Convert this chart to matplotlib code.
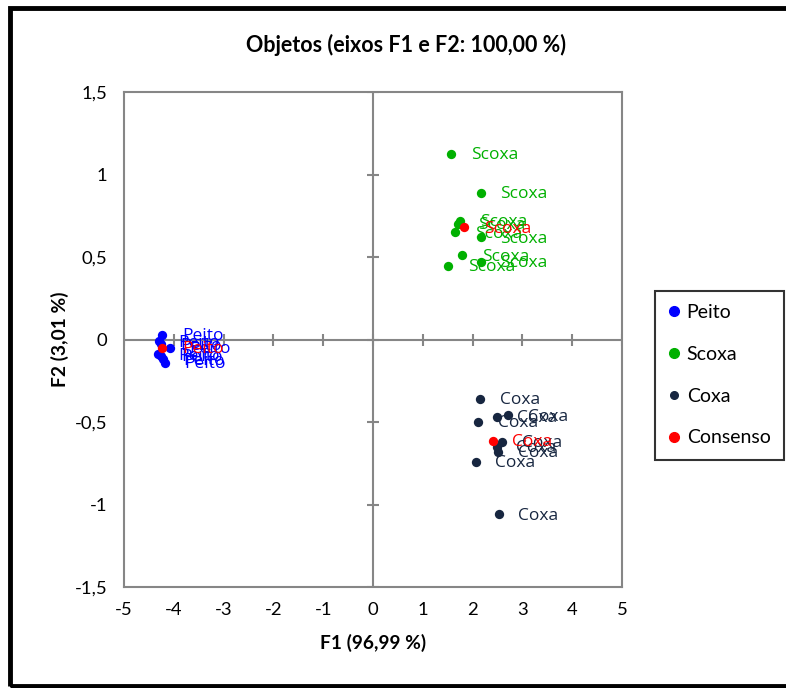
import matplotlib
matplotlib.use("Agg")
import matplotlib.pyplot as plt
from matplotlib.lines import Line2D
from matplotlib.patches import Rectangle

# Coordinates of the objects on the first two factors
peito_f1 = [-4.23, -4.30, -4.26, -4.08, -4.31, -4.25, -4.21, -4.18]
peito_f2 = [0.03, -0.01, -0.03, -0.05, -0.09, -0.10, -0.12, -0.14]

scoxa_f1 = [1.57, 2.17, 1.75, 1.71, 1.65, 2.17, 1.79, 2.17, 1.51]
scoxa_f2 = [1.124, 0.888, 0.72, 0.70, 0.65, 0.62, 0.51, 0.47, 0.445]

coxa_f1 = [2.15, 2.50, 2.72, 2.11, 2.60, 2.48, 2.52, 2.06, 2.53]
coxa_f2 = [-0.36, -0.47, -0.46, -0.50, -0.62, -0.65, -0.68, -0.74, -1.06]

consenso_f1 = [-4.23, 1.83, 2.40]
consenso_f2 = [-0.05, 0.68, -0.615]
consenso_lab = ["Peito", "Scoxa", "Coxa"]

x_ticks = [-5, -4, -3, -2, -1, 0, 1, 2, 3, 4, 5]
y_ticks = [-1.5, -1, -0.5, 0, 0.5, 1, 1.5]

c_peito = "#0000ff"
c_scoxa = "#00b000"
c_coxa = "#172640"
c_cons = "#ff0000"
grey = "#868686"


def fmt(v):
    s = ("%g" % v).replace(".", ",")
    return s


fig = plt.figure(figsize=(7.86, 6.88), dpi=100)
ax = fig.add_axes([124 / 786, 101 / 688, 498 / 786, 495 / 688])

ax.set_xlim(-5, 5)
ax.set_ylim(-1.5, 1.5)
for sp in ax.spines.values():
    sp.set_color(grey)
    sp.set_linewidth(1.5)
ax.tick_params(length=0, labelsize=13.3)
ax.tick_params(axis="x", pad=11)
ax.tick_params(axis="y", pad=12)
ax.set_xticks(x_ticks)
ax.set_yticks(y_ticks)
ax.set_xticklabels([fmt(v) for v in x_ticks], fontfamily="Lato")
ax.set_yticklabels([fmt(v) for v in y_ticks], fontfamily="Lato")

# axes through the origin with crossing tick marks
ax.axhline(0, color=grey, lw=1.5, zorder=1)
ax.axvline(0, color=grey, lw=1.5, zorder=1)
ax.plot(x_ticks, [0] * len(x_ticks), ls="none", marker="|", ms=9, mew=1.5,
        color=grey, zorder=1)
ax.plot([0] * len(y_ticks), y_ticks, ls="none", marker="_", ms=9, mew=1.5,
        color=grey, zorder=1)

groups = [
    (peito_f1, peito_f2, c_peito, "Peito"),
    (scoxa_f1, scoxa_f2, c_scoxa, "Scoxa"),
    (coxa_f1, coxa_f2, c_coxa, "Coxa"),
]
for xs, ys, col, name in groups:
    ax.scatter(xs, ys, s=45, color=col, zorder=3, linewidths=0)
    for x, y in zip(xs, ys):
        ax.annotate(name, (x, y), xytext=(14, -1), textcoords="offset points",
                    va="center", ha="left", color=col, fontsize=12.5,
                    fontfamily="Open Sans", zorder=4)

ax.scatter(consenso_f1, consenso_f2, s=45, color=c_cons, zorder=5, linewidths=0)
for x, y, lab in zip(consenso_f1, consenso_f2, consenso_lab):
    ax.annotate(lab, (x, y), xytext=(14, -1), textcoords="offset points",
                va="center", ha="left", color=c_cons, fontsize=12.5,
                fontfamily="Open Sans", zorder=6)

fig.text(406 / 786, 1 - 45 / 688, "Objetos (eixos F1 e F2: 100,00 %)",
         ha="center", va="center", fontsize=15.5, fontweight="bold",
         fontfamily="Lato")
fig.text(373 / 786, 1 - 643 / 688, "F1 (96,99 %)", ha="center", va="center",
         fontsize=13.8, fontweight="bold", fontfamily="Lato")
fig.text(60 / 786, 1 - 339 / 688, "F2 (3,01 %)", ha="center", va="center",
         rotation=90, fontsize=13.8, fontweight="bold", fontfamily="Lato")

handles = [
    Line2D([], [], ls="none", marker="o", ms=7, color=c_peito),
    Line2D([], [], ls="none", marker="o", ms=7, color=c_scoxa),
    Line2D([], [], ls="none", marker="o", ms=5.5, color=c_coxa),
    Line2D([], [], ls="none", marker="o", ms=7, color=c_cons),
]
leg = fig.legend(handles, ["Peito", "Scoxa", "Coxa", "Consenso"],
                 loc="upper left", bbox_to_anchor=(655 / 786, 1 - 291 / 688),
                 frameon=True, fancybox=False, prop={"family": "Lato", "size": 14},
                 handlelength=0.6, handletextpad=0.35, labelspacing=1.27,
                 borderpad=0.68, borderaxespad=0)
leg.get_frame().set_edgecolor("black")
leg.get_frame().set_linewidth(1.5)

# outer chart border
fig.patches.append(Rectangle((10 / 786, 2 / 688), 800 / 786, 678 / 688,
                             transform=fig.transFigure, fill=False,
                             edgecolor="black", linewidth=3.5))

fig.savefig("out.png", dpi=100)
